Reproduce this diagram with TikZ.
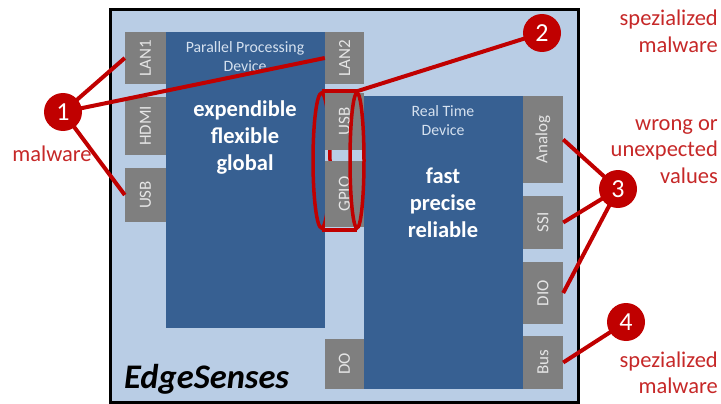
\documentclass[tikz,border=0pt]{standalone}
\usepackage{fontspec}
\setmainfont{Carlito}
\usepackage{graphicx}
\usetikzlibrary{shapes.geometric}
\definecolor{lightblue}{HTML}{B9CDE5}
\definecolor{darkblue}{HTML}{376092}
\definecolor{portgray}{HTML}{7F7F7F}
\definecolor{alarm}{HTML}{C00000}
\definecolor{alarmtext}{HTML}{C62828}
\tikzset{
  port/.style={fill=portgray, draw=none, inner sep=0pt, text=white!90!black,
    font=\fontsize{17}{20}\selectfont},
  device/.style={fill=darkblue, draw=none, inner sep=0pt},
  devtitle/.style={text=lightblue!60!white, align=center, inner sep=0pt,
    font=\fontsize{15.8}{19}\selectfont},
  devbold/.style={text=white, align=center, inner sep=0pt,
    font=\fontsize{22.5}{27}\selectfont\bfseries},
  badge/.style={circle, fill=alarm, minimum size=38pt, inner sep=0pt, text=white,
    font=\fontsize{26}{30}\selectfont},
  link/.style={draw=alarm, line width=4pt},
  cylend/.style={ellipse, draw=alarm, line width=3.5pt, inner sep=0pt},
  note/.style={text=alarmtext, inner sep=0pt, anchor=base east,
    font=\fontsize{22.5}{27}\selectfont},
}
\begin{document}
\begin{tikzpicture}[x=1pt,y=-1pt]
\useasboundingbox (0,0) rectangle (721,404);
% board
\node[draw=black, line width=3pt, fill=lightblue, inner sep=0pt,
  minimum width=468pt, minimum height=392.5pt] (board) at (344.2,205.75) {};
% devices
\node[device, minimum width=159pt, minimum height=296pt] (ppd) at (245.5,180) {};
\node[device, minimum width=159pt, minimum height=293pt] (rtd) at (443.5,242.5) {};
% back end of cylinder
\node[cylend, minimum width=17pt, minimum height=135pt] (cylL) at (321.5,160.5) {};
% ports
\node[port, minimum width=41pt, minimum height=52pt] (lan1) at (145.5,58) {\rotatebox{90}{LAN1}};
\node[port, minimum width=41pt, minimum height=58pt] (hdmi) at (145.5,126) {\rotatebox{90}{HDMI}};
\node[port, minimum width=41pt, minimum height=54pt] (usbl) at (145.5,195) {\rotatebox{90}{USB}};
\node[port, minimum width=39pt, minimum height=52pt] (lan2) at (344.5,58) {\rotatebox{90}{LAN2}};
\node[port, minimum width=39pt, minimum height=57pt] (usbr) at (344.5,121.5) {\rotatebox{90}{USB}};
\node[port, minimum width=39pt, minimum height=66pt] (gpio) at (344.5,194) {\rotatebox{90}{GPIO}};
\node[port, minimum width=39pt, minimum height=50pt] (do) at (344.5,364) {\rotatebox{90}{DO}};
\node[port, minimum width=40pt, minimum height=87pt] (analog) at (543,139.5) {\rotatebox{90}{Analog}};
\node[port, minimum width=40pt, minimum height=53pt] (ssi) at (543,222.5) {\rotatebox{90}{SSI}};
\node[port, minimum width=40pt, minimum height=62pt] (dio) at (543,293) {\rotatebox{90}{DIO}};
\node[port, minimum width=40pt, minimum height=53pt] (bus) at (543,362.5) {\rotatebox{90}{Bus}};
% front of cylinder
\node[cylend, minimum width=14pt, minimum height=135pt] (cylR) at (357,160.5) {};
\draw[draw=alarm, line width=3.5pt] (cylL.north) -- (cylR.north);
\draw[draw=alarm, line width=3.5pt] (cylL.south) -- (cylR.south);
% device texts
\node[devtitle] (ppdtitle) at (245,57) {Parallel Processing\\Device};
\node[devbold] (ppdbold) at (245,138) {expendible\\flexible\\global};
\node[devtitle] (rtdtitle) at (443,121) {Real Time\\Device};
\node[devbold] (rtdbold) at (443,203) {fast\\precise\\reliable};
\node[anchor=base west, inner sep=0pt, font=\fontsize{34.5}{38}\selectfont\bfseries\itshape]
  (brand) at (124,388) {EdgeSenses};
% badges
\coordinate (b1) at (63,112);
\coordinate (b2) at (542,33);
\coordinate (b3) at (618,189);
\coordinate (b4) at (626,322);
\draw[link] (b1) -- (lan1.west);
\draw[link] (b1) -- (lan2.west);
\draw[link] (b1) -- (usbl.west);
\draw[link] (b2) -- (cylR.north);
\draw[link] (b3) -- (analog.east);
\draw[link] (b3) -- (ssi.east);
\draw[link] (b3) -- (dio.east);
\draw[link] (b4) -- (bus.east);
\node[badge] (c1) at (b1) {1};
\node[badge] (c2) at (b2) {2};
\node[badge] (c3) at (b3) {3};
\node[badge] (c4) at (b4) {4};
% notes
\node[note, anchor=base] (n1) at (52,161) {malware};
\node[note] (n2a) at (718,26) {spezialized};
\node[note] (n2b) at (718,53) {malware};
\node[note] (n3a) at (718,130) {wrong or};
\node[note] (n3b) at (718,157) {unexpected};
\node[note] (n3c) at (718,183) {values};
\node[note] (n4a) at (718,367) {spezialized};
\node[note] (n4b) at (718,393) {malware};
\end{tikzpicture}
\end{document}
